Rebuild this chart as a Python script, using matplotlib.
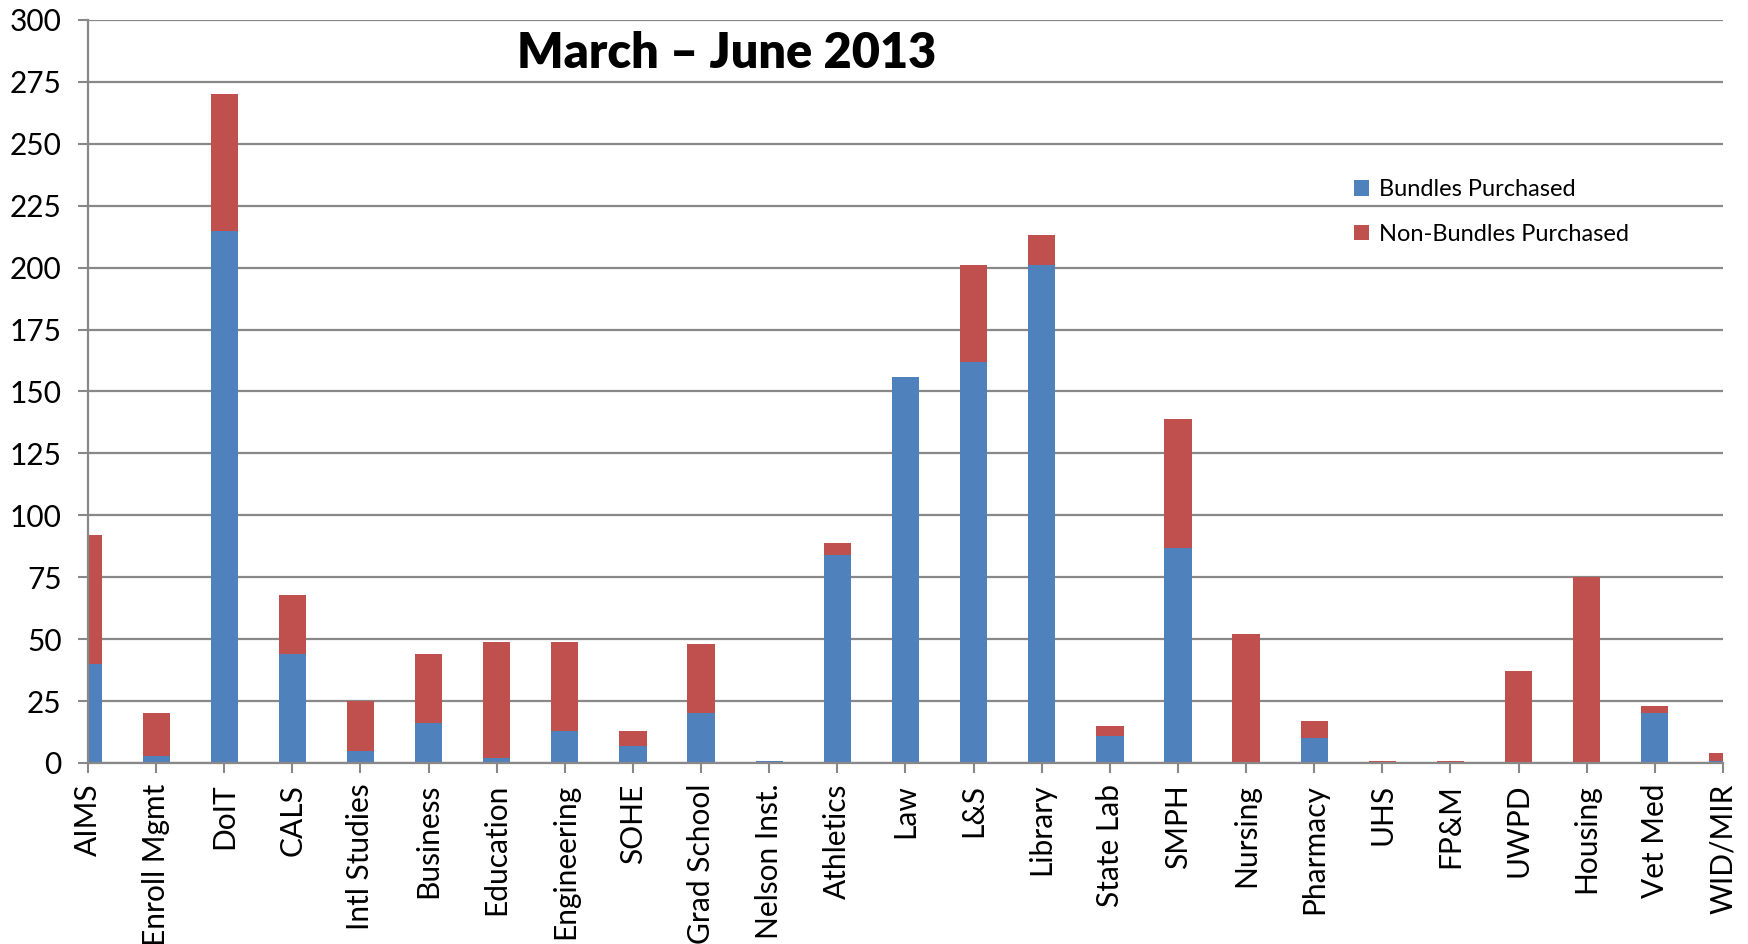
import matplotlib
matplotlib.use("Agg")
import matplotlib.pyplot as plt
import numpy as np

categories = ["AIMS", "Enroll Mgmt", "DoIT", "CALS", "Intl Studies", "Business",
              "Education", "Engineering", "SOHE", "Grad School", "Nelson Inst.",
              "Athletics", "Law", "L&S", "Library", "State Lab", "SMPH", "Nursing",
              "Pharmacy", "UHS", "FP&M", "UWPD", "Housing", "Vet Med", "WID/MIR"]
bundles = [40, 3, 215, 44, 5, 16, 2, 13, 7, 20, 1, 84, 156, 162, 201, 11, 87, 0,
           10, 0, 0, 0, 0, 20, 1]
non_bundles = [52, 17, 55, 24, 20, 28, 47, 36, 6, 28, 0, 5, 0, 39, 12, 4, 52, 52,
               7, 1, 1, 37, 75, 3, 3]
yticks = [0, 25, 50, 75, 100, 125, 150, 175, 200, 225, 250, 275, 300]
title = "March \u2013 June 2013"

plt.rcParams['font.family'] = ['Lato', 'DejaVu Sans']

fig = plt.figure(figsize=(17.48, 9.44), dpi=100)
ax = fig.add_axes([88/1748, 1-763/944, (1723-88)/1748, (763-20)/944])

x = np.arange(len(categories))
blue = "#4F81BD"
red = "#C0504D"
ax.bar(x, bundles, width=0.4, color=blue, label="Bundles Purchased", zorder=3)
ax.bar(x, non_bundles, width=0.4, bottom=bundles, color=red,
       label="Non-Bundles Purchased", zorder=3)

ax.set_xlim(0, len(categories) - 1)
ax.set_ylim(0, 300)
ax.set_yticks(yticks)
ax.set_xticks(x)
ax.set_xticklabels(categories, rotation=90, fontsize=21.5)
ax.tick_params(axis='y', labelsize=21.5, length=7, width=1.5, color="#888888", pad=12)
ax.tick_params(axis='x', length=7, width=1.5, color="#888888", pad=8)

ax.grid(axis='y', color="#888888", linewidth=1.6, zorder=0)
for s in ['top', 'right']:
    ax.spines[s].set_visible(False)
for s in ['left', 'bottom']:
    ax.spines[s].set_color("#888888")
    ax.spines[s].set_linewidth(1.6)
    ax.spines[s].set_zorder(4)

fig.text(727/1748, 1-54/944, title, ha='center', va='center',
         fontsize=35, fontweight='heavy')

leg = ax.legend(loc='upper left', bbox_to_anchor=((1345-88)/1635, 1-(170-20)/743),
                frameon=False, fontsize=17, handlelength=0.62, handleheight=0.62,
                handletextpad=0.4, labelspacing=1.0, borderaxespad=0)

fig.savefig("out.png", dpi=100)
